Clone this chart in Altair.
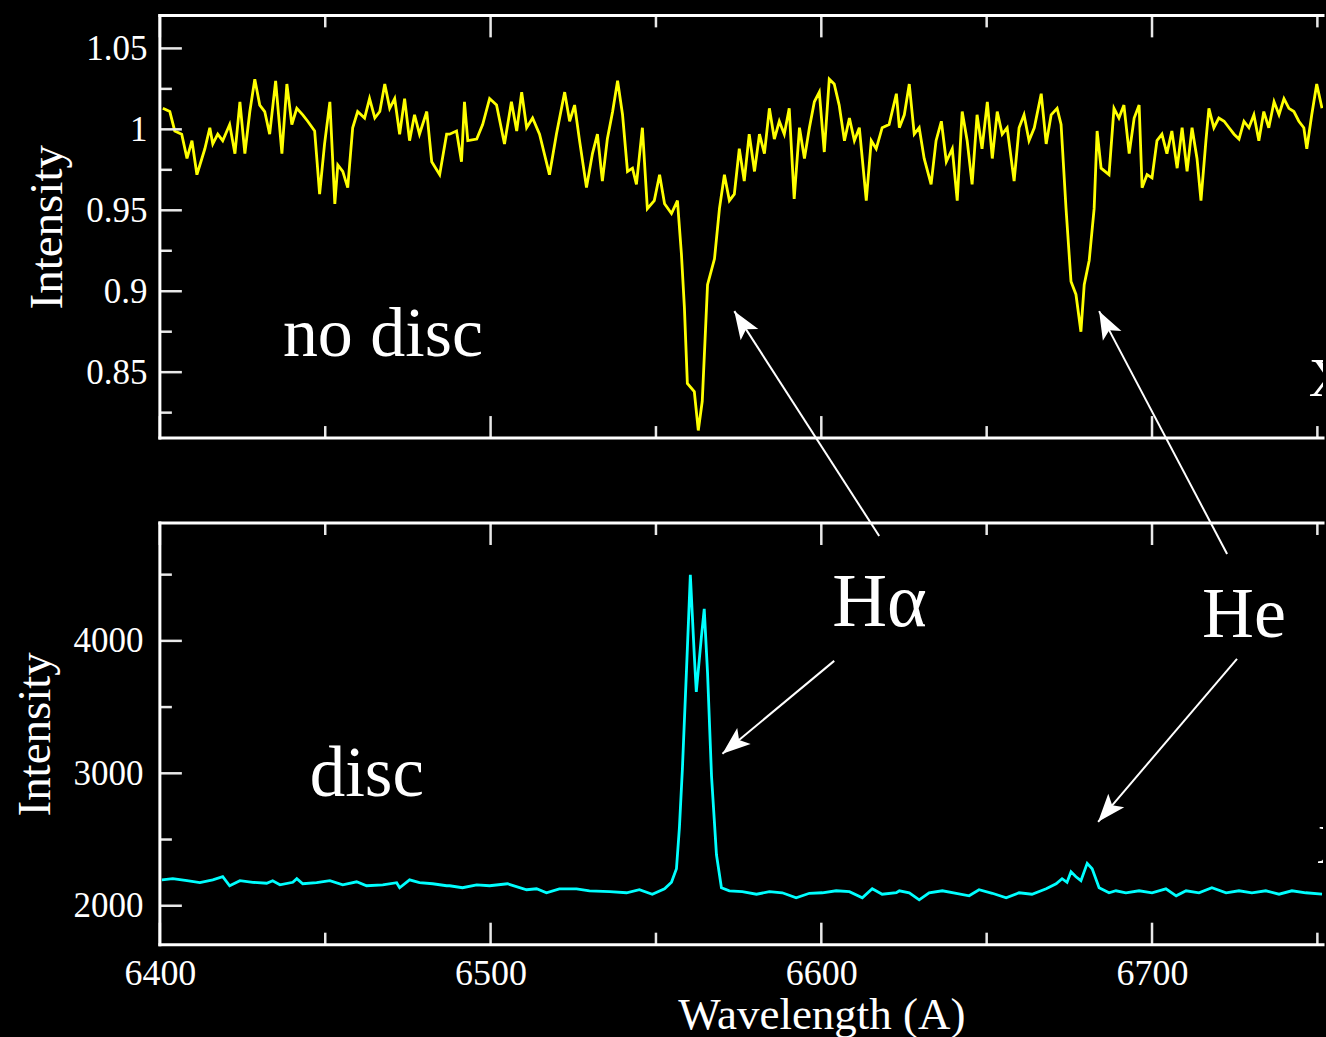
import math
import altair as alt
import pandas as pd

# ---------------------------------------------------------------------------
# Spectrum of the star without a disc (normalised intensity)
# ---------------------------------------------------------------------------
nodisc_wavelength = [
    6400.9, 6403.0, 6404.5, 6406.6, 6408.2, 6409.7, 6411.2, 6412.7, 6413.6, 6415.1,
    6416.0, 6417.5, 6419.0, 6421.1, 6422.7, 6424.2, 6425.7, 6427.2, 6428.7, 6430.2,
    6431.7, 6433.2, 6435.0, 6436.9, 6438.4, 6439.9, 6441.4, 6443.2, 6444.7, 6446.8,
    6448.3, 6449.8, 6451.4, 6452.9, 6453.8, 6455.3, 6456.8, 6458.3, 6459.8, 6461.9,
    6463.4, 6465.0, 6466.5, 6468.0, 6469.5, 6471.0, 6472.5, 6474.0, 6475.5, 6477.0,
    6478.5, 6480.7, 6482.2, 6484.6, 6486.7, 6487.6, 6489.7, 6491.2, 6492.1, 6493.1,
    6495.8, 6497.6, 6499.7, 6501.8, 6504.2, 6506.3, 6507.9, 6509.4, 6510.9, 6512.7,
    6514.8, 6517.8, 6519.9, 6522.4, 6523.9, 6525.4, 6526.9, 6529.0, 6530.8, 6532.3,
    6533.8, 6535.3, 6536.9, 6538.4, 6539.9, 6541.4, 6542.9, 6544.1, 6545.9, 6547.4,
    6549.5, 6551.1, 6552.6, 6554.7, 6556.5, 6557.7, 6558.6, 6559.5, 6561.6, 6562.8,
    6564.0, 6565.6, 6567.7, 6569.2, 6570.7, 6572.2, 6573.7, 6575.2, 6576.7, 6578.2,
    6579.8, 6581.3, 6582.8, 6584.3, 6585.8, 6587.3, 6588.8, 6590.3, 6591.8, 6593.4,
    6594.9, 6596.4, 6597.9, 6599.4, 6600.9, 6602.4, 6603.9, 6605.4, 6607.0, 6608.5,
    6610.0, 6611.5, 6613.6, 6615.1, 6616.6, 6618.4, 6620.5, 6622.7, 6623.6, 6625.1,
    6626.6, 6628.1, 6629.6, 6631.1, 6633.2, 6634.7, 6636.3, 6637.8, 6639.6, 6641.1,
    6642.6, 6644.1, 6645.6, 6647.1, 6648.6, 6650.2, 6651.7, 6653.2, 6654.7, 6656.2,
    6658.3, 6659.8, 6661.3, 6662.8, 6664.4, 6666.5, 6668.0, 6669.5, 6671.3, 6672.5,
    6674.0, 6675.5, 6677.0, 6678.5, 6679.5, 6681.0, 6682.5, 6683.4, 6684.6, 6687.0,
    6688.5, 6690.0, 6691.5, 6693.1, 6694.6, 6696.1, 6697.0, 6698.5, 6700.0, 6701.5,
    6703.0, 6704.5, 6706.0, 6707.6, 6709.1, 6710.6, 6712.1, 6713.6, 6714.8, 6716.3,
    6717.2, 6718.7, 6720.2, 6721.8, 6723.3, 6724.8, 6726.3, 6727.8, 6729.3, 6730.8,
    6732.3, 6733.8, 6735.3, 6736.9, 6738.4, 6739.9, 6741.4, 6742.9, 6744.4, 6745.9,
    6746.8, 6748.3, 6749.8, 6751.4,
]
nodisc_intensity = [
    1.013, 1.011, 0.999, 0.997, 0.982, 0.993, 0.972, 0.982, 0.988, 1.001,
    0.991, 0.997, 0.993, 1.003, 0.985, 1.017, 0.985, 1.011, 1.031, 1.015,
    1.011, 0.997, 1.030, 0.985, 1.028, 1.003, 1.013, 1.009, 1.005, 0.999,
    0.960, 0.991, 1.017, 0.954, 0.978, 0.974, 0.964, 1.001, 1.011, 1.007,
    1.019, 1.007, 1.011, 1.028, 1.013, 1.019, 0.997, 1.019, 0.993, 1.009,
    0.997, 1.011, 0.980, 0.972, 0.997, 0.997, 0.999, 0.980, 1.017, 0.993,
    0.994, 1.003, 1.019, 1.015, 0.991, 1.017, 0.999, 1.023, 1.001, 1.007,
    0.997, 0.972, 0.997, 1.023, 1.005, 1.015, 0.993, 0.964, 0.985, 0.997,
    0.968, 0.994, 1.011, 1.030, 1.009, 0.974, 0.976, 0.966, 1.001, 0.951,
    0.956, 0.972, 0.954, 0.948, 0.956, 0.923, 0.890, 0.843, 0.838, 0.814,
    0.832, 0.904, 0.920, 0.951, 0.972, 0.956, 0.960, 0.988, 0.968, 0.997,
    0.974, 0.997, 0.985, 1.013, 0.994, 1.005, 0.997, 1.013, 0.957, 1.001,
    0.982, 1.001, 1.017, 1.023, 0.986, 1.031, 1.028, 1.015, 0.993, 1.007,
    0.993, 1.001, 0.956, 0.993, 0.988, 1.001, 1.003, 1.022, 1.001, 1.009,
    1.028, 0.997, 1.001, 0.982, 0.966, 0.993, 1.005, 0.980, 0.988, 0.956,
    1.011, 0.993, 0.966, 1.009, 0.988, 1.017, 0.982, 1.011, 0.997, 1.001,
    0.968, 1.001, 1.009, 0.993, 1.001, 1.022, 0.991, 1.009, 1.013, 1.003,
    0.951, 0.906, 0.898, 0.875, 0.904, 0.919, 0.951, 0.999, 0.976, 0.972,
    1.013, 1.007, 1.015, 0.985, 1.007, 1.015, 0.964, 0.972, 0.970, 0.993,
    0.997, 0.985, 0.999, 0.976, 1.001, 0.974, 1.001, 0.982, 0.956, 0.993,
    1.013, 1.001, 1.007, 1.005, 1.001, 0.997, 0.994, 1.005, 1.001, 1.009,
    0.993, 1.011, 1.001, 1.017, 1.009, 1.019, 1.013, 1.011, 1.005, 1.001,
    0.988, 1.009, 1.028, 1.013,
]

# ---------------------------------------------------------------------------
# Spectrum of the star with a disc (counts)
# ---------------------------------------------------------------------------
disc_wavelength = [
    6400.6, 6403.9, 6408.2, 6412.1, 6416.0, 6419.0, 6421.1, 6424.2, 6428.1, 6432.3,
    6434.1, 6436.3, 6440.2, 6441.4, 6443.2, 6447.4, 6451.4, 6455.3, 6459.5, 6462.5,
    6467.4, 6471.6, 6472.5, 6475.5, 6478.5, 6482.5, 6486.7, 6487.6, 6491.5, 6495.8,
    6499.7, 6505.1, 6510.9, 6513.9, 6516.9, 6520.8, 6526.0, 6529.9, 6536.0, 6541.1,
    6545.0, 6548.9, 6552.6, 6554.7, 6556.2, 6557.1, 6558.0, 6559.2, 6560.4, 6561.6,
    6562.2, 6563.7, 6564.6, 6565.6, 6566.8, 6568.3, 6569.8, 6572.2, 6576.1, 6580.4,
    6584.3, 6588.2, 6592.4, 6596.4, 6600.3, 6604.5, 6608.5, 6612.4, 6615.4, 6618.4,
    6622.7, 6623.6, 6626.6, 6629.6, 6632.6, 6636.6, 6640.8, 6644.7, 6647.7, 6651.7,
    6655.9, 6659.8, 6663.7, 6668.0, 6671.0, 6672.8, 6674.3, 6675.5, 6677.0, 6678.5,
    6680.4, 6681.9, 6684.0, 6687.0, 6689.1, 6692.1, 6696.1, 6700.0, 6704.2, 6707.3,
    6710.3, 6714.2, 6718.1, 6722.4, 6726.3, 6730.2, 6734.4, 6738.4, 6742.3, 6746.5,
    6751.4,
]
disc_intensity = [
    2196, 2204, 2189, 2174, 2196, 2219, 2151, 2189, 2177, 2170,
    2189, 2158, 2177, 2204, 2166, 2174, 2189, 2158, 2181, 2151,
    2158, 2174, 2136, 2196, 2174, 2166, 2151, 2151, 2136, 2158,
    2151, 2166, 2121, 2128, 2098, 2128, 2128, 2113, 2106, 2098,
    2121, 2087, 2128, 2177, 2279, 2592, 3034, 3758, 4498, 3887,
    3615, 4019, 4242, 3758, 2981, 2385, 2136, 2113, 2106, 2087,
    2106, 2098, 2060, 2094, 2098, 2113, 2106, 2060, 2128, 2087,
    2098, 2113, 2098, 2045, 2098, 2113, 2094, 2075, 2121, 2094,
    2060, 2098, 2087, 2128, 2166, 2204, 2177, 2257, 2219, 2189,
    2320, 2279, 2136, 2098, 2113, 2098, 2113, 2098, 2128, 2075,
    2113, 2098, 2136, 2098, 2113, 2098, 2113, 2087, 2113, 2098,
    2087,
]

# Axis ticks
x_major = [6400, 6500, 6600, 6700]
x_minor = [6450, 6550, 6650, 6750]
top_y_major = [0.85, 0.9, 0.95, 1.0, 1.05]
top_y_minor = [0.825, 0.875, 0.925, 0.975, 1.025]
bot_y_major = [2000, 3000, 4000]
bot_y_minor = [2500, 3500, 4500]

# Panel annotations (text, wavelength, value)
top_text = ["no disc"]
top_text_wl = [6437.2]
top_text_val = [0.860]
bot_text = ["disc", "Hα", "He"]
bot_text_wl = [6445.3, 6603.3, 6715.1]
bot_text_val = [2830, 4113, 4030]
bot_text_size = [71, 76, 72]
edge_text = ["X"]
top_edge_wl = [6747.4]
top_edge_val = [0.835]
bot_edge_wl = [6749.8]
bot_edge_val = [2325]

# Arrows pointing at the lines (tail -> tip)
top_arrow_tail_wl = [6617.5, 6722.7]
top_arrow_tail_val = [0.7488, 0.7377]
top_arrow_tip_wl = [6573.7, 6684.0]
top_arrow_tip_val = [0.8877, 0.8877]
bot_arrow_tail_wl = [6603.9, 6725.7]
bot_arrow_tail_val = [3849, 3864]
bot_arrow_tip_wl = [6570.1, 6683.7]
bot_arrow_tip_val = [3147, 2634]

# ---------------------------------------------------------------------------
# Layout / style
# ---------------------------------------------------------------------------
FONT = "Liberation Serif"
INK = "#ffffff"
TICK_INK = "#e8e8e8"
WL_MIN, WL_MAX = 6400.0, 6751.7
PANEL_W = 1164
TOP_H, BOT_H = 423, 422
TOP_DOMAIN = [0.8093, 1.0704]
BOT_DOMAIN = [1706.0, 4890.0]
MAJOR_LEN, MINOR_LEN = 22, 12
ARROW_HEAD = "M0,0L-0.75,2L0,1.55L0.75,2Z"

PX_WL = PANEL_W / (WL_MAX - WL_MIN)


def y_axis(values, fmt, pad, title_x, height):
    return alt.Axis(
        values=values, format=fmt, ticks=False, domain=False, grid=False,
        labelFont=FONT, labelFontSize=35, labelColor=INK, labelPadding=pad,
        title="Intensity", titleFont=FONT, titleFontSize=47,
        titleFontWeight="normal", titleColor=INK, titleAngle=270,
        titleX=title_x, titleY=height / 2, titleAlign="center",
        titleBaseline="alphabetic")


class Panel:
    """Shared x/y encodings so that every layer of a panel merges into one axis pair."""

    def __init__(self, ydomain, height, xaxis, yaxis):
        self.ydomain = ydomain
        self.height = height
        self.xaxis = xaxis
        self.yaxis = yaxis

    def x(self, field="wl"):
        return alt.X(f"{field}:Q", scale=alt.Scale(domain=[WL_MIN, WL_MAX], nice=False, zero=False),
                     axis=self.xaxis)

    def y(self, field="val"):
        return alt.Y(f"{field}:Q", scale=alt.Scale(domain=self.ydomain, nice=False, zero=False),
                     axis=self.yaxis)

    def frame(self):
        one = alt.Data(values=[{"k": 0}])
        style = dict(color=INK, strokeWidth=3, strokeCap="square")
        h = self.height
        return [
            alt.Chart(one).mark_rule(**style).encode(x=alt.value(0), y=alt.value(0), y2=alt.value(h)),
            alt.Chart(one).mark_rule(**style).encode(x=alt.value(0), x2=alt.value(PANEL_W), y=alt.value(0)),
            alt.Chart(one).mark_rule(**style).encode(x=alt.value(0), x2=alt.value(PANEL_W), y=alt.value(h)),
        ]

    def ticks(self, ymaj, ymin):
        layers = []
        h = self.height
        for vals, ln in ((x_major, MAJOR_LEN), (x_minor, MINOR_LEN)):
            df = pd.DataFrame({"wl": vals})
            for y0, y1 in ((0, ln), (h, h - ln)):
                layers.append(
                    alt.Chart(df).mark_rule(color=TICK_INK, strokeWidth=2.5).encode(
                        x=self.x(), y=alt.value(y0), y2=alt.value(y1)))
        for vals, ln in ((ymaj, MAJOR_LEN), (ymin, MINOR_LEN)):
            df = pd.DataFrame({"val": vals})
            layers.append(
                alt.Chart(df).mark_rule(color=TICK_INK, strokeWidth=2.5).encode(
                    y=self.y(), x=alt.value(0), x2=alt.value(ln)))
        return layers

    def arrows(self, tail_wl, tail_val, tip_wl, tip_val):
        px_val = self.height / (self.ydomain[1] - self.ydomain[0])
        angles = []
        for a, b, c, d in zip(tail_wl, tail_val, tip_wl, tip_val):
            dx = (c - a) * PX_WL
            dy = -(d - b) * px_val
            angles.append(math.degrees(math.atan2(dx, -dy)) % 360)
        shaft = pd.DataFrame({"wl": tail_wl, "val": tail_val, "wl2": tip_wl, "val2": tip_val})
        heads = pd.DataFrame({"wl": tip_wl, "val": tip_val, "angle": angles})
        line = alt.Chart(shaft).mark_rule(color=INK, strokeWidth=2).encode(
            x=self.x(), y=self.y(), x2="wl2:Q", y2="val2:Q")
        head = alt.Chart(heads).mark_point(
            shape=ARROW_HEAD, filled=True, size=784, color=INK, opacity=1, strokeWidth=0
        ).encode(x=self.x(), y=self.y(), angle=alt.Angle("angle:Q", scale=None))
        return [line, head]

    def text(self, texts, wls, vals, sizes, clip=False):
        df = pd.DataFrame({"text": texts, "wl": wls, "val": vals, "size": sizes})
        return alt.Chart(df).mark_text(
            font=FONT, color=INK, align="left", baseline="alphabetic", clip=clip
        ).encode(x=self.x(), y=self.y(), text="text:N",
                 size=alt.Size("size:Q", scale=None))


# ---------------------------------------------------------------------------
# Upper panel: no disc
# ---------------------------------------------------------------------------
top = Panel(TOP_DOMAIN, TOP_H, None, y_axis(top_y_major, "~g", 13, -98, TOP_H))
top_df = pd.DataFrame({"wl": nodisc_wavelength, "val": nodisc_intensity})
top_line = alt.Chart(top_df).mark_line(color="#ffff00", strokeWidth=2.8, clip=True).encode(
    x=top.x(), y=top.y())

top_panel = alt.layer(
    top_line,
    *top.ticks(top_y_major, top_y_minor),
    *top.frame(),
    top.text(top_text, top_text_wl, top_text_val, [70]),
    top.text(edge_text, top_edge_wl, top_edge_val, [56], clip=True),
    *top.arrows(top_arrow_tail_wl, top_arrow_tail_val, top_arrow_tip_wl, top_arrow_tip_val),
).properties(width=PANEL_W, height=TOP_H)

# ---------------------------------------------------------------------------
# Lower panel: disc
# ---------------------------------------------------------------------------
x_axis = alt.Axis(
    values=x_major, format="d", ticks=False, domain=False, grid=False,
    labelFlush=False, labelFont=FONT, labelFontSize=36, labelColor=INK,
    labelPadding=12, title="Wavelength (A)", titleFont=FONT, titleFontSize=45,
    titleFontWeight="normal", titleColor=INK,
    titleX=(6600 - WL_MIN) * PX_WL, titleY=84, titleAlign="center",
    titleBaseline="alphabetic")
bot = Panel(BOT_DOMAIN, BOT_H, x_axis, y_axis(bot_y_major, "d", 17, -110, BOT_H))
bot_df = pd.DataFrame({"wl": disc_wavelength, "val": disc_intensity})
bot_line = alt.Chart(bot_df).mark_line(color="#00ffff", strokeWidth=2.8, clip=True).encode(
    x=bot.x(), y=bot.y())

bot_panel = alt.layer(
    bot_line,
    *bot.ticks(bot_y_major, bot_y_minor),
    *bot.frame(),
    bot.text(bot_text, bot_text_wl, bot_text_val, bot_text_size),
    bot.text(edge_text, bot_edge_wl, bot_edge_val, [56], clip=True),
    *bot.arrows(bot_arrow_tail_wl, bot_arrow_tail_val, bot_arrow_tip_wl, bot_arrow_tip_val),
).properties(width=PANEL_W, height=BOT_H)

chart = alt.vconcat(top_panel, bot_panel, spacing=85, bounds="flush").properties(
    background="black",
    padding={"left": 12, "top": 12, "right": 0, "bottom": 0},
).configure_view(stroke=None)

chart.save("out.html", embed_options={"renderer": "svg", "actions": False})
